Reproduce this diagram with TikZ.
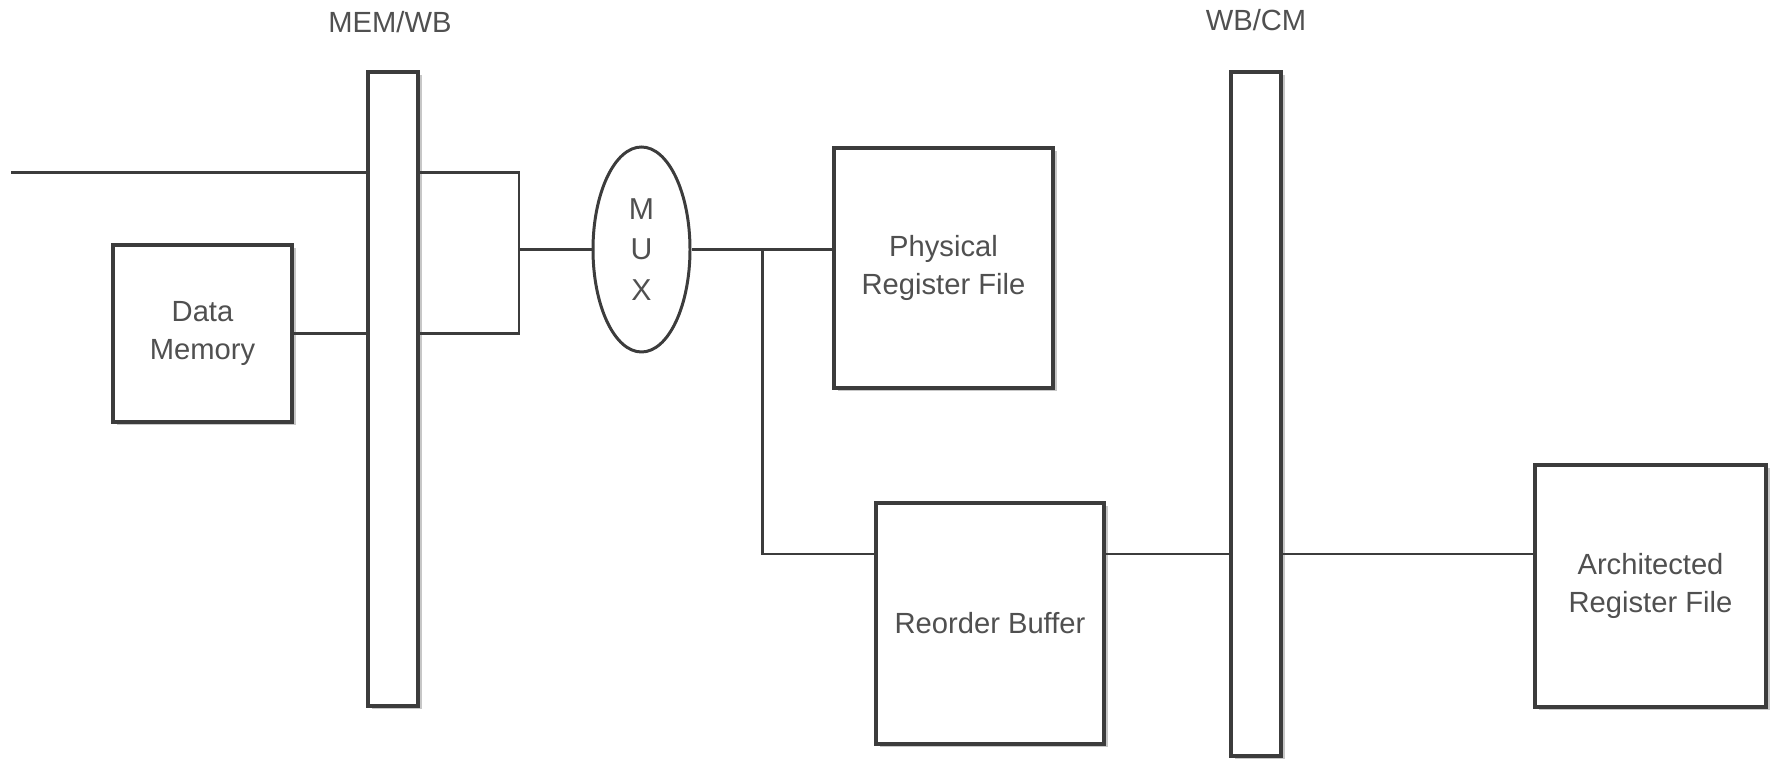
\documentclass[tikz,border=0pt]{standalone}
\usepackage{fontspec}
\setmainfont{Liberation Sans}
\usetikzlibrary{shapes.geometric,shadows}
\definecolor{wire}{HTML}{3C3C3C}
\definecolor{txt}{HTML}{505050}
\begin{document}
\begin{tikzpicture}[line width=0.85pt, draw=wire,
  every node/.style={font=\fontsize{8.3}{10.6}\selectfont, text=txt},
  unit/.style={draw=wire, fill=white, align=center, inner sep=0pt, line width=0.9pt,
    drop shadow={shadow xshift=0.035cm, shadow yshift=-0.035cm, opacity=0.22, fill=black}},
  latch/.style={unit, minimum width=0.50cm}]
\useasboundingbox (0,0) rectangle (17.72,-7.63);
% pipeline latches
\node[latch,minimum height=6.34cm] (mem) at (3.93,-3.89) {};
\node[latch,minimum height=6.84cm] (wb) at (12.56,-4.14) {};
\node (memlbl) at (3.90,-0.22) {MEM/WB};
\node (wblbl) at (12.56,-0.20) {WB/CM};
% blocks
\node[unit,minimum width=1.79cm,minimum height=1.77cm] (dm) at (2.025,-3.335) {Data\\Memory};
\node[draw=wire,ellipse,inner sep=0pt,minimum width=0.97cm,minimum height=2.05cm,align=center,
  font=\fontsize{8.6}{11.6}\selectfont] (mux) at (6.415,-2.495) {M\\U\\X};
\node[unit,minimum width=2.19cm,minimum height=2.40cm] (prf) at (9.435,-2.68) {Physical\\Register File};
\node[unit,minimum width=2.28cm,minimum height=2.41cm] (rob) at (9.90,-6.235) {Reorder Buffer};
\node[unit,minimum width=2.31cm,minimum height=2.42cm] (arf) at (16.505,-5.86) {Architected\\Register File};
% wiring
\coordinate (inl) at (0.11,-1.73);
\coordinate (join) at (5.19,-2.495);
\coordinate (tap) at (7.62,-2.495);
\coordinate (rb) at ([yshift=0.695cm]rob.east);
\draw (inl) -- (inl -| mem.west);
\draw (dm.east) -- (dm.east -| mem.west);
\draw (inl -| mem.east) -| (join) |- (dm.east -| mem.east);
\draw (join) -- (mux.west);
\draw (mux.east) -- (mux.east -| prf.west);
\draw (tap) |- ([yshift=0.695cm]rob.west);
\draw (rb) -- (rb -| wb.west);
\draw (rb -| wb.east) -- (rb -| arf.west);
\end{tikzpicture}
\end{document}
